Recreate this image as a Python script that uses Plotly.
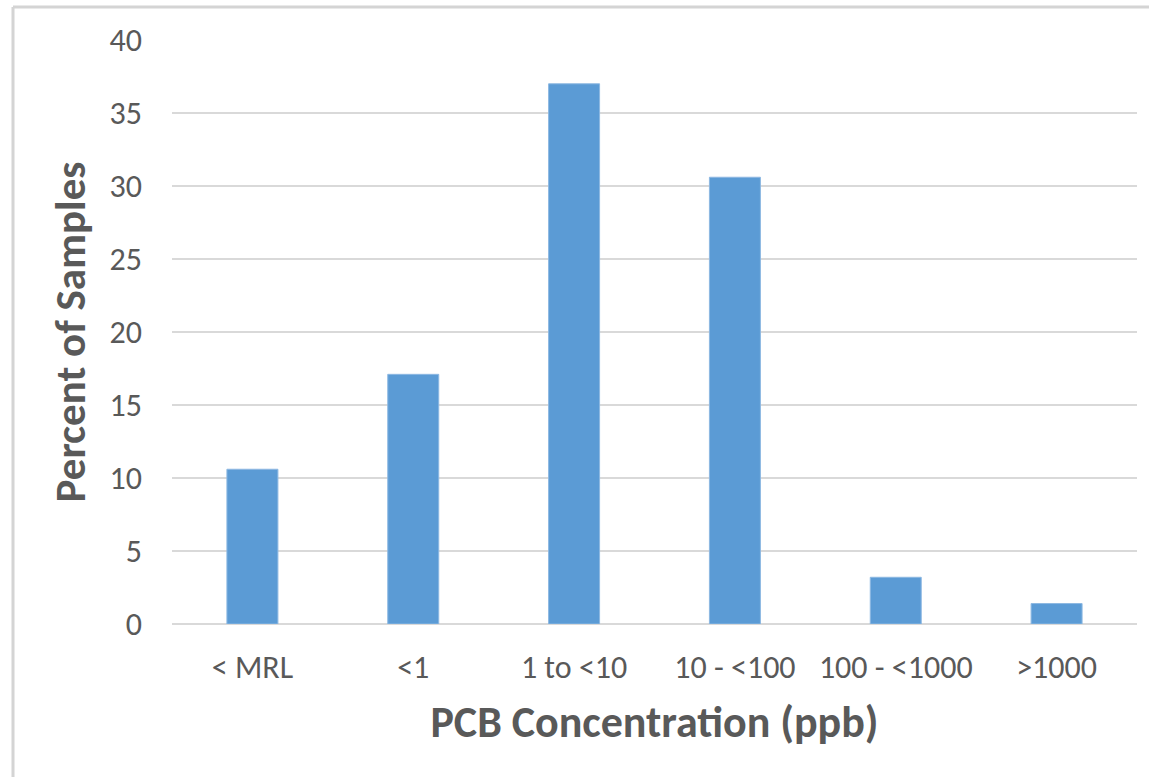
import plotly.graph_objects as go

categories = ["< MRL", "<1", "1 to <10", "10 - <100", "100 - <1000", ">1000"]
percent_of_samples = [10.6, 17.1, 37.0, 30.6, 3.2, 1.4]
y_ticks = [0, 5, 10, 15, 20, 25, 30, 35, 40]

W, H = 1149, 777
L, R, T, B = 172, 12, 40, 153
pw, ph = W - L - R, H - T - B

def px_x(x):
    return (x - L) / pw

def px_y(y):
    return (H - B - y) / ph

font_family = "Carlito, Calibri, Lato, sans-serif"
grey = "#595959"
grid = "#D9D9D9"

fig = go.Figure(
    go.Bar(
        x=categories,
        y=percent_of_samples,
        marker=dict(color="#5B9BD5", line=dict(color="#8DB8E2", width=1)),
        hoverinfo="x+y",
    )
)

fig.update_layout(
    width=W,
    height=H,
    margin=dict(l=L, r=R, t=T, b=B, pad=0),
    paper_bgcolor="white",
    plot_bgcolor="white",
    bargap=0.683,
    showlegend=False,
    font=dict(family=font_family, color=grey),
    xaxis=dict(
        title=dict(text="<b>PCB Concentration (ppb)</b>",
                   font=dict(size=44, color=grey, family=font_family),
                   standoff=20),
        tickfont=dict(size=32, color=grey, family=font_family),
        ticklabelstandoff=21,
        showgrid=False,
        showline=False,
        zeroline=False,
        ticks="",
    ),
    yaxis=dict(
        title=dict(text="<b>Percent of Samples</b>",
                   font=dict(size=43, color=grey, family=font_family),
                   standoff=10),
        range=[0, 40],
        tickvals=y_ticks,
        tickfont=dict(size=32, color=grey, family=font_family),
        ticklabelstandoff=29,
        showgrid=True,
        gridcolor=grid,
        gridwidth=2,
        zeroline=True,
        zerolinecolor=grid,
        zerolinewidth=2,
        showline=False,
        ticks="",
    ),
    shapes=[
        dict(type="line", xref="paper", yref="paper",
             x0=px_x(13), x1=px_x(13), y0=px_y(7), y1=px_y(H + 5),
             line=dict(color="#D4D4D4", width=3)),
        dict(type="line", xref="paper", yref="paper",
             x0=px_x(13), x1=px_x(W + 5), y0=px_y(7), y1=px_y(7),
             line=dict(color="#D4D4D4", width=3)),
    ],
)

fig.write_html("out.html")
